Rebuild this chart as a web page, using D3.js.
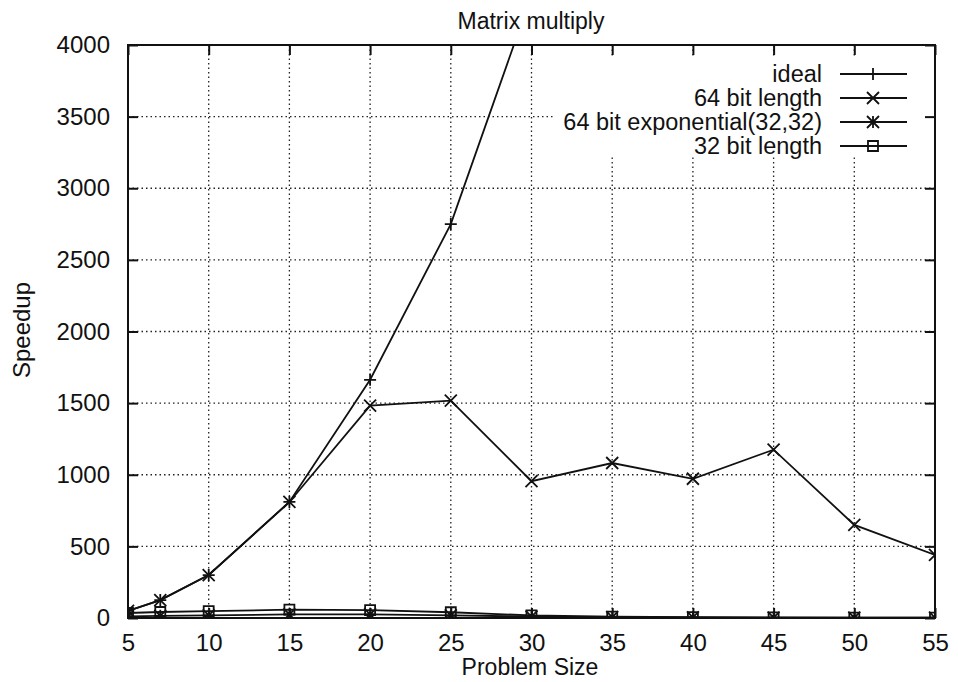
<!DOCTYPE html>
<html>
<head>
<meta charset="utf-8">
<script src="https://cdnjs.cloudflare.com/ajax/libs/d3/7.8.5/d3.min.js"></script>
<style>
  body { margin: 0; background: #fff; }
  text { font-family: "Liberation Sans", Arial, sans-serif; fill: #111; }
</style>
</head>
<body>
<script>
// Matrix multiply speedup chart

// problem sizes on the x axis
var sizes = [5, 7, 10, 15, 20, 25, 30, 35, 40, 45, 50, 55];

// series values
var ideal = [50, 125, 300, 810, 1663, 2750, 4350];
var len64 = [50, 125, 300, 810, 1482, 1517, 955, 1082, 972, 1175, 650, 440];
var exp64 = [12, 15, 18, 25, 25, 18, 10, 6, 5, 3, 2, 2];
var len32 = [35, 42, 48, 58, 55, 40, 18, 9, 6, 4, 3, 2];

var seriesNames = ["ideal", "64 bit length", "64 bit exponential(32,32)", "32 bit length"];
var seriesMarks = ["plus", "cross", "star", "square"];

var xTicks = [5, 10, 15, 20, 25, 30, 35, 40, 45, 50, 55];
var yTicks = [0, 500, 1000, 1500, 2000, 2500, 3000, 3500, 4000];

window.onload = drawChart;

function drawChart() {
    var w = 958, h = 682;
    // plot frame (note: "top" is a reserved window global, so use pTop etc)
    var pLeft = 128, pRight = 935, pTop = 45, pBottom = 618;

    var svg = d3.select("body").append("svg")
        .attr("width", w)
        .attr("height", h);

    var x = d3.scaleLinear().domain([5, 55]).range([pLeft, pRight]);
    var y = d3.scaleLinear().domain([0, 4000]).range([pBottom, pTop]);

    // clip for data lines
    svg.append("clipPath").attr("id", "plotclip")
        .append("rect")
        .attr("x", pLeft).attr("y", pTop)
        .attr("width", pRight - pLeft).attr("height", pBottom - pTop);

    // dotted grid
    var grid = svg.append("g").attr("class", "grid");
    grid.selectAll(".vgrid")
        .data(xTicks.slice(1, -1))
        .enter().append("line")
        .attr("x1", function (d) { return x(d); })
        .attr("x2", function (d) { return x(d); })
        .attr("y1", pTop).attr("y2", pBottom)
        .style("stroke", "#222").style("stroke-width", 1.3)
        .style("stroke-dasharray", "1.5,3");
    grid.selectAll(".hgrid")
        .data(yTicks.slice(1, -1))
        .enter().append("line")
        .attr("y1", function (d) { return y(d); })
        .attr("y2", function (d) { return y(d); })
        .attr("x1", pLeft).attr("x2", pRight)
        .style("stroke", "#222").style("stroke-width", 1.3)
        .style("stroke-dasharray", "1.5,3");

    // legend box is opaque over the grid
    svg.append("rect")
        .attr("x", 555).attr("y", 56)
        .attr("width", pRight - 556).attr("height", 100)
        .style("fill", "#fff");

    // axes with inward ticks, mirrored on top and right
    svg.append("g").attr("transform", "translate(0," + pBottom + ")")
        .call(d3.axisBottom(x).tickValues(xTicks).tickSizeInner(-10).tickSizeOuter(0).tickPadding(16));
    svg.append("g").attr("transform", "translate(0," + pTop + ")")
        .call(d3.axisTop(x).tickValues(xTicks).tickSizeInner(-10).tickSizeOuter(0).tickFormat(""));
    svg.append("g").attr("transform", "translate(" + pLeft + ",0)")
        .call(d3.axisLeft(y).tickValues(yTicks).tickSizeInner(-10).tickSizeOuter(0).tickPadding(18).tickFormat(d3.format("d")));
    svg.append("g").attr("transform", "translate(" + pRight + ",0)")
        .call(d3.axisRight(y).tickValues(yTicks).tickSizeInner(-10).tickSizeOuter(0).tickFormat(""));

    svg.selectAll(".domain").remove();
    svg.selectAll(".tick line").style("stroke", "#111").style("stroke-width", 2);
    svg.selectAll(".tick text").style("font-size", "24px")
        .style("font-family", "Liberation Sans, Arial, sans-serif").style("fill", "#111");

    // border
    svg.append("rect")
        .attr("x", pLeft).attr("y", pTop)
        .attr("width", pRight - pLeft).attr("height", pBottom - pTop)
        .style("fill", "none").style("stroke", "#111").style("stroke-width", 2);

    // marker path generator
    function markPath(type, cx, cy) {
        var s = 6;
        if (type === "plus") {
            return "M" + (cx - s) + "," + cy + "H" + (cx + s) + "M" + cx + "," + (cy - s) + "V" + (cy + s);
        } else if (type === "cross") {
            return "M" + (cx - s) + "," + (cy - s) + "L" + (cx + s) + "," + (cy + s) +
                "M" + (cx - s) + "," + (cy + s) + "L" + (cx + s) + "," + (cy - s);
        } else if (type === "star") {
            return markPath("plus", cx, cy) + markPath("cross", cx, cy);
        } else {
            var q = 5;
            return "M" + (cx - q) + "," + (cy - q) + "H" + (cx + q) + "V" + (cy + q) + "H" + (cx - q) + "Z";
        }
    }

    var allSeries = [ideal, len64, exp64, len32];

    var line = d3.line()
        .x(function (d) { return x(d.size); })
        .y(function (d) { return y(d.value); });

    var plot = svg.append("g").attr("clip-path", "url(#plotclip)");

    allSeries.forEach(function (vals, k) {
        var pts = vals.map(function (v, i) { return { size: sizes[i], value: v }; });
        plot.append("path")
            .datum(pts)
            .attr("d", line)
            .style("fill", "none").style("stroke", "#111").style("stroke-width", 1.8);
        plot.selectAll(".mark" + k)
            .data(pts.filter(function (d) { return d.value <= 4000; }))
            .enter().append("path")
            .attr("d", function (d) { return markPath(seriesMarks[k], x(d.size), y(d.value)); })
            .style("fill", "none").style("stroke", "#111").style("stroke-width", 1.8);
    });

    // legend
    var legX = 822, legY = 74, legStep = 24;
    seriesNames.forEach(function (name, k) {
        var ly = legY + k * legStep;
        svg.append("text")
            .attr("x", legX).attr("y", ly)
            .attr("dy", "0.35em")
            .attr("text-anchor", "end")
            .style("font-size", "23.5px")
            .text(name);
        svg.append("line")
            .attr("x1", 840).attr("x2", 907)
            .attr("y1", ly).attr("y2", ly)
            .style("stroke", "#111").style("stroke-width", 1.8);
        svg.append("path")
            .attr("d", markPath(seriesMarks[k], 873, ly))
            .style("fill", "none").style("stroke", "#111").style("stroke-width", 1.8);
    });

    // title and axis labels
    svg.append("text")
        .attr("x", 531).attr("y", 29)
        .attr("text-anchor", "middle")
        .style("font-size", "23px")
        .text("Matrix multiply");

    svg.append("text")
        .attr("x", 530).attr("y", 675)
        .attr("text-anchor", "middle")
        .style("font-size", "23px")
        .text("Problem Size");

    svg.append("text")
        .attr("transform", "translate(30,330) rotate(-90)")
        .attr("text-anchor", "middle")
        .style("font-size", "24px")
        .text("Speedup");
}
</script>
</body>
</html>
